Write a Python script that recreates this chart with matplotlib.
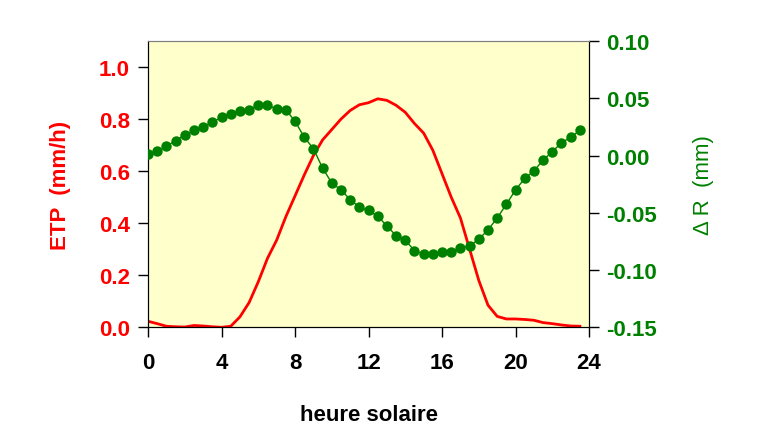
import numpy as np
import matplotlib
matplotlib.use("Agg")
import matplotlib.pyplot as plt

plt.rcParams['font.family'] = ['Liberation Sans', 'DejaVu Sans']

# heure solaire, pas de 30 min
heures = np.arange(0, 24, 0.5)

# ETP (mm/h)
etp = [0.023, 0.014, 0.004, 0.002, 0.001, 0.007, 0.005, 0.002,
       0.000, 0.004, 0.040, 0.095, 0.175, 0.265, 0.335, 0.425,
       0.505, 0.585, 0.660, 0.720, 0.760, 0.800, 0.833, 0.855,
       0.863, 0.878, 0.872, 0.853, 0.826, 0.783, 0.746, 0.680,
       0.590, 0.500, 0.420, 0.300, 0.180, 0.085, 0.042, 0.032,
       0.032, 0.030, 0.027, 0.018, 0.014, 0.009, 0.005, 0.004]

# variation de reserve Delta R (mm)
delta_r = [0.001, 0.004, 0.008, 0.013, 0.018, 0.022, 0.025, 0.029,
           0.0335, 0.0365, 0.039, 0.040, 0.044, 0.0437, 0.041, 0.040,
           0.030, 0.016, 0.006, -0.011, -0.024, -0.030, -0.0385, -0.045,
           -0.048, -0.053, -0.0615, -0.070, -0.074, -0.083, -0.086, -0.086,
           -0.084, -0.084, -0.081, -0.079, -0.073, -0.065, -0.0545, -0.0426,
           -0.030, -0.020, -0.0134, -0.004, 0.0035, 0.011, 0.016, 0.022]

xticks = [0, 4, 8, 12, 16, 20, 24]

fig = plt.figure(figsize=(7.69, 4.35), dpi=100)
ax = fig.add_axes([0.1925, 0.2453, 0.5735, 0.6581])
ax.set_facecolor('#FFFFCC')

ax.plot(heures, etp, color='#FF0000', lw=2, zorder=2)
ax.set_xlim(0, 24)
ax.set_ylim(0, 1.1)
ax.set_xticks(xticks)
ax.set_yticks(np.arange(0, 1.01, 0.2))
ax.set_yticklabels([f"{v:.1f}" for v in np.arange(0, 1.01, 0.2)])
ax.tick_params(axis='y', direction='out', length=7, width=1, labelsize=16, pad=6)
ax.tick_params(axis='x', direction='out', length=7, width=1, labelsize=16, pad=11)
for lab in ax.get_xticklabels():
    lab.set_fontweight('bold')
for lab in ax.get_yticklabels():
    lab.set_fontweight('bold')
    lab.set_color('#FF0000')
ax.spines['top'].set_color('#808080')
ax.set_ylabel('ETP  (mm/h)', color='#FF0000', fontsize=16, fontweight='bold', labelpad=20)
ax.set_xlabel('heure solaire', fontsize=16, fontweight='bold', labelpad=22)

ax2 = ax.twinx()
ax2.plot(heures, delta_r, color='#008000', lw=1, marker='o', ms=7.5,
         markeredgewidth=0, zorder=3)
ax2.set_ylim(-0.15, 0.10)
ax2.set_yticks(np.arange(-0.15, 0.101, 0.05))
ax2.set_yticklabels([f"{v:.2f}" for v in np.arange(-0.15, 0.101, 0.05)])
ax2.tick_params(axis='y', direction='out', length=7, width=1, labelsize=16, pad=5)
for lab in ax2.get_yticklabels():
    lab.set_fontweight('bold')
    lab.set_color('#008000')
ax2.spines['top'].set_color('#808080')
ax2.set_ylabel('\u0394 R  (mm)', color='#008000', fontsize=16, labelpad=26)
ax2.set_zorder(ax.get_zorder() + 1)
ax2.patch.set_visible(False)

fig.savefig('out.png', dpi=100)
